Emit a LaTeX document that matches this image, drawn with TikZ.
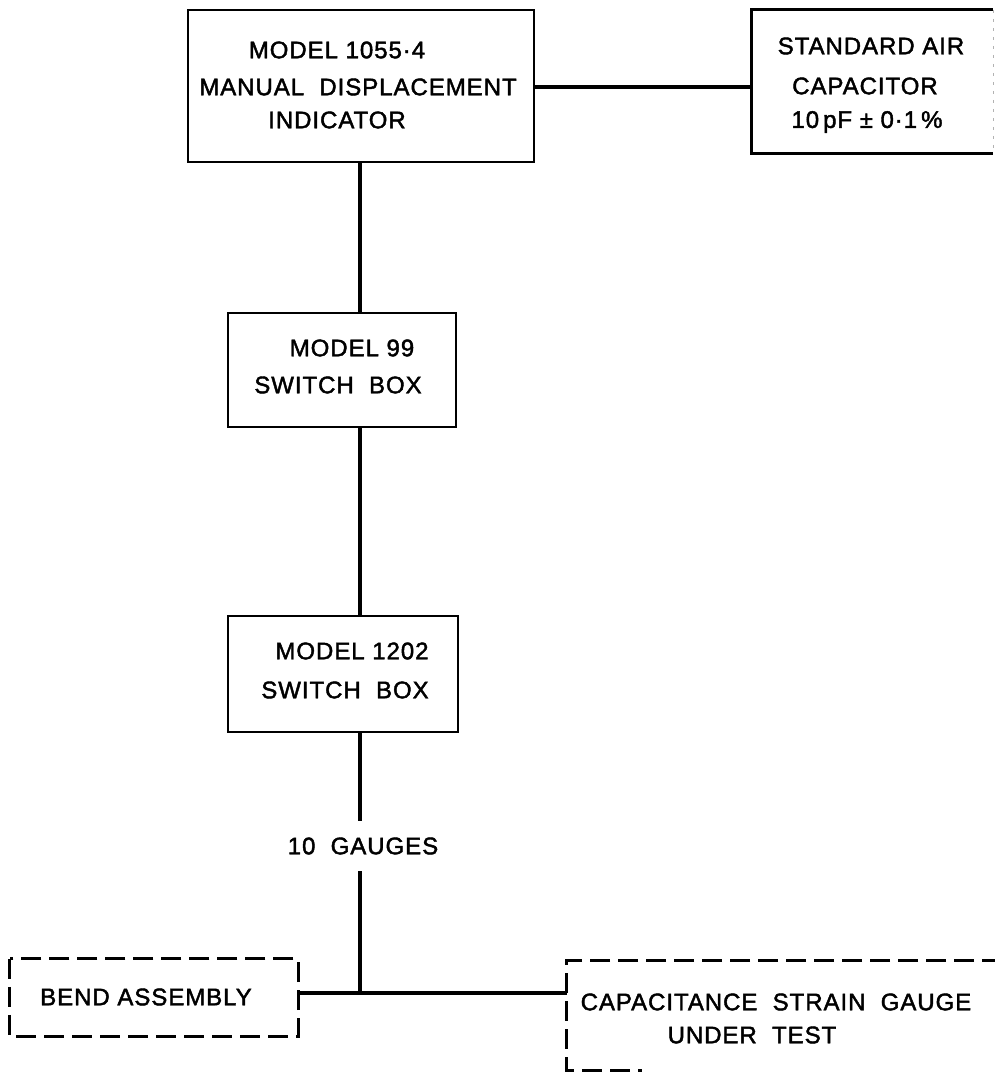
\documentclass[tikz,border=0pt]{standalone}
\usepackage{fontspec}
\setmainfont[FakeBold=1.8, LetterSpace=4]{Liberation Sans}
\begin{document}
\begin{tikzpicture}[x=1pt,y=-1pt,
  boxframe/.style={draw, line width=2.8pt, rectangle, inner sep=0pt},
  plainframe/.style={rectangle, inner sep=0pt},
  dashline/.style={line width=2.8pt, dash pattern=on 20pt off 8pt},
  wire/.style={line width=4pt},
  lbl/.style={inner sep=0pt, font=\fontsize{24}{24}\selectfont},
]
\useasboundingbox (0,0) rectangle (995,1073);

% ---- blocks ----
\node[boxframe, minimum width=346pt, minimum height=152pt] (ind) at (361,86) {};
\node[plainframe, minimum width=241pt, minimum height=143pt] (std) at (872.5,81.5) {};
\node[boxframe, minimum width=228pt, minimum height=114pt] (sw99) at (342,370) {};
\node[boxframe, minimum width=230pt, minimum height=116pt] (sw1202) at (343,674) {};
\node[plainframe, minimum width=288pt, minimum height=77pt] (bend) at (154,997.5) {};
\node[plainframe, minimum width=463pt, minimum height=109pt] (sg) at (798.5,1015.5) {};

% frame of the air capacitor (right side runs off the sheet)
\draw[line width=2.8pt] (std.north east) -- (std.north west) -- (std.south west) -- (std.south east);
\draw[line width=0.6pt, gray!60, dash pattern=on 3pt off 6pt] (std.north east) -- (std.south east);

% dashed outlines of the test pieces
\draw[dashline] (bend.north west) rectangle (bend.south east);
\draw[dashline] (sg.north east) -- (sg.north west) -- (sg.south west) -- ++(75,0);

% ---- texts ----
\node[lbl] (t1a) at (337,50) {MODEL 1055·4};
\node[lbl] (t1b) at (358,87) {MANUAL \ DISPLACEMENT};
\node[lbl] (t1c) at (337,120) {INDICATOR};

\node[lbl] (t2a) at (871,46) {STANDARD AIR};
\node[lbl] (t2b) at (865,86) {CAPACITOR};
\node[lbl] (t2c) at (867,122) {10\,pF ± 0·1\,\%};

\node[lbl] (t3a) at (352,348) {MODEL 99};
\node[lbl] (t3b) at (338,385) {SWITCH \ BOX};

\node[lbl] (t4a) at (352,651) {MODEL 1202};
\node[lbl] (t4b) at (345,690) {SWITCH \ BOX};

\node[lbl, minimum height=50pt] (gauges) at (363,846) {10 \ GAUGES};

\node[lbl] (t5) at (146,997) {BEND ASSEMBLY};
\node[lbl] (t6a) at (776,1002) {CAPACITANCE \ STRAIN \ GAUGE};
\node[lbl] (t6b) at (752,1035) {UNDER \ TEST};

% ---- connections ----
\coordinate (trunk) at (360,0);
\coordinate (j) at (360,993);

\draw[wire] (ind.east |- t1b) -- (std.west |- t1b);
\draw[wire] (ind.south -| trunk) -- (sw99.north -| trunk);
\draw[wire] (sw99.south -| trunk) -- (sw1202.north -| trunk);
\draw[wire] (sw1202.south -| trunk) -- (gauges.north -| trunk);
\draw[wire] (gauges.south -| trunk) -- (j);
\draw[wire] (bend.east |- j) -- (sg.west |- j);
\end{tikzpicture}
\end{document}
